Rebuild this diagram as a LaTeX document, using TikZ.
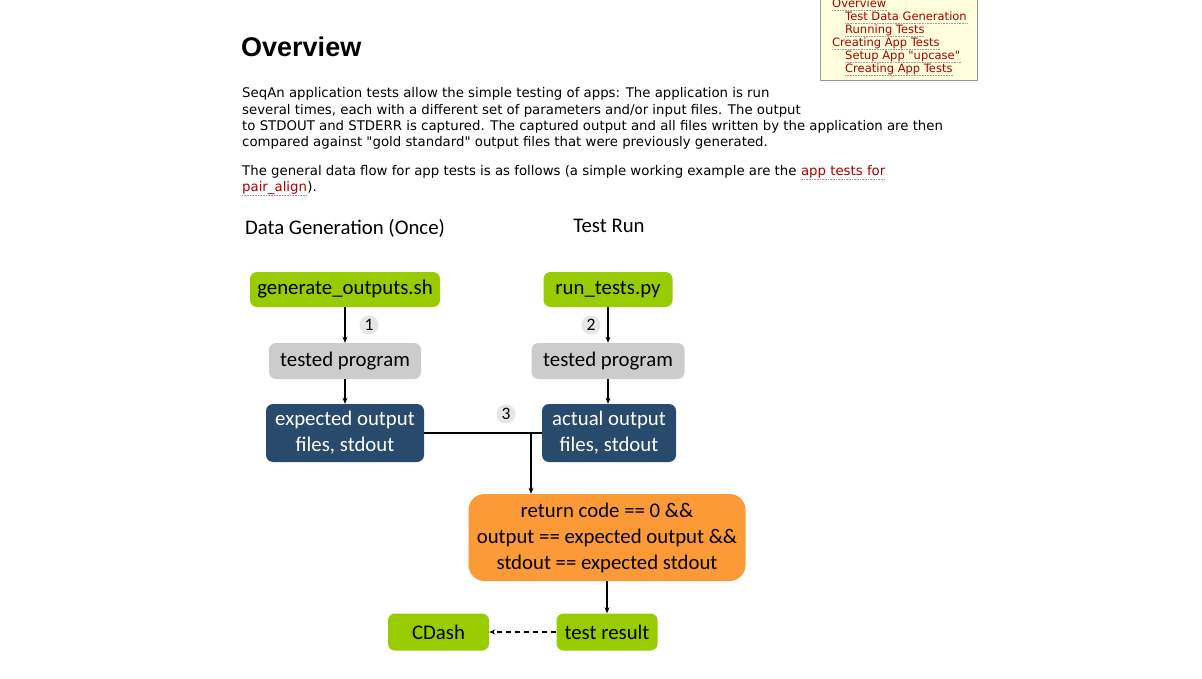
\documentclass[tikz,border=0pt]{standalone}
\usepackage{fontspec}
\setmainfont{DejaVu Sans}
\newfontfamily\diagfont{Carlito}
\newfontfamily\headfont{Liberation Sans}
\usetikzlibrary{arrows.meta}
\definecolor{limeg}{HTML}{99CC00}
\definecolor{greyb}{HTML}{CCCCCC}
\definecolor{navyb}{HTML}{284A6C}
\definecolor{orangeb}{HTML}{FC9A38}
\definecolor{circg}{HTML}{E6E6E6}
\definecolor{linkred}{HTML}{AA0000}
\definecolor{tocbg}{HTML}{FFFFDD}
\definecolor{tocline}{HTML}{999999}
\tikzset{
  txt/.style={inner sep=0pt, anchor=base west, font=\fontsize{13.3}{15}\selectfont, text=black},
  lnk/.style={txt, text=linkred},
  toc/.style={inner sep=0pt, anchor=base west, font=\fontsize{11.5}{13}\selectfont, text=linkred},
  dotu/.style={densely dotted, draw=tocline, line width=0.6pt},
  box/.style={rounded corners=7pt, inner sep=0pt, align=center, font=\diagfont\fontsize{20.8}{26}\selectfont, text=black},
  greenbox/.style={box, fill=limeg},
  greybox/.style={box, fill=greyb},
  navybox/.style={box, fill=navyb, text=white},
  orangebox/.style={box, fill=orangeb, rounded corners=16pt},
  num/.style={circle, fill=circg, inner sep=0pt, minimum size=19pt, font=\diagfont\fontsize{17.5}{19}\selectfont},
  title/.style={inner sep=0pt, font=\diagfont\fontsize{20.8}{24}\selectfont},
  conn/.style={line width=1.8pt, -{Stealth[length=6pt,width=5pt]}},
  plain/.style={line width=1.8pt}
}
\begin{document}
\begin{tikzpicture}[x=1pt,y=-1pt]
\useasboundingbox (0,0) rectangle (1202,679);
\fill[white] (0,0) rectangle (1202,679);

% TOC box
\draw[fill=tocbg, draw=tocline, line width=0.8pt] (820,-5) rectangle (977,80);
\node[toc] (t1) at (832,8) {Overview};
\node[toc] (t2) at (845,21) {Test Data Generation};
\node[toc] (t3) at (845,34) {Running Tests};
\node[toc] (t4) at (832,47) {Creating App Tests};
\node[toc] (t5) at (845,60) {Setup App \textquotedbl upcase\textquotedbl};
\node[toc] (t6) at (845,73) {Creating App Tests};
\foreach \t in {t1,t2,t3,t4,t5,t6}{
  \draw[dotu] ([yshift=-2pt]\t.base west) -- ([yshift=-2pt]\t.base east);
}

% Heading
\node[inner sep=0pt, anchor=base west, font=\headfont\bfseries\fontsize{27}{30}\selectfont] (head) at (241,57) {Overview};

% Paragraph 1
\node[txt] (p1) at (242,98) {SeqAn application tests allow the simple testing of apps: The application is run};
\node[txt] (p2) at (242,115) {several times, each with a different set of parameters and/or input files. The output};
\node[txt] (p3) at (242,131) {to STDOUT and STDERR is captured. The captured output and all files written by the application are then};
\node[txt] (p4) at (242,147) {compared against \textquotedbl gold standard\textquotedbl\ output files that were previously generated.};

% Paragraph 2
\node[txt] (q1) at (242,176) {The general data flow for app tests is as follows (a simple working example are the};
\node[lnk] (q1l) at ([xshift=4.2pt]q1.base east) {app tests for};
\node[lnk] (q2l) at (242,192) {pair\_align};
\node[txt] (q2) at (q2l.base east) {).};
\draw[dotu] ([yshift=-3pt]q1l.base west) -- ([yshift=-3pt]q1l.base east);
\draw[dotu] ([yshift=-3pt]q2l.base west) -- ([yshift=-3pt]q2l.base east);

% Diagram titles
\node[title] (tgen) at (345,228) {Data Generation (Once)};
\node[title] (trun) at (609,226) {Test Run};

% Boxes
\node[greenbox, minimum width=190pt, minimum height=35pt] (gen) at (345,289.5) {generate\_outputs.sh};
\node[greenbox, minimum width=129pt, minimum height=35pt] (run) at (608,289.5) {run\_tests.py};
\node[greybox, minimum width=152pt, minimum height=36pt] (tp1) at (345,361) {tested program};
\node[greybox, minimum width=153pt, minimum height=36pt] (tp2) at (608,361) {tested program};
\node[navybox, minimum width=158pt, minimum height=58pt] (exp) at (345,433) {expected output\\files, stdout};
\node[navybox, minimum width=134pt, minimum height=58pt] (act) at (609,433) {actual output\\files, stdout};
\node[orangebox, minimum width=277pt, minimum height=87pt] (cond) at (607,537.5) {return code == 0 \&\&\\output == expected output \&\&\\stdout == expected stdout};
\node[greenbox, minimum width=101pt, minimum height=37pt] (res) at (607,632) {test result};
\node[greenbox, minimum width=101pt, minimum height=37pt] (cdash) at (438.5,632) {CDash};

% Number badges
\node[num] (n1) at (369,325) {1};
\node[num] (n2) at (591,325) {2};
\node[num] (n3) at (506,414) {3};

% Connectors
\draw[conn] (gen.south) -- (tp1.north);
\draw[conn] (run.south) -- (tp2.north);
\draw[conn] (tp1.south) -- (exp.north);
\draw[conn] (tp2.south) -- (tp2.south |- act.north);
\coordinate (junc) at (531,433);
\draw[plain] (exp.east) -- (act.west);
\draw[conn] (junc) -- (junc |- cond.north);
\draw[conn] (cond.south) -- (res.north);
\draw[line width=1.8pt, dash pattern=on 5pt off 4pt, -{Stealth[length=6pt,width=5pt]}] (res.west) -- (cdash.east);
\end{tikzpicture}
\end{document}
